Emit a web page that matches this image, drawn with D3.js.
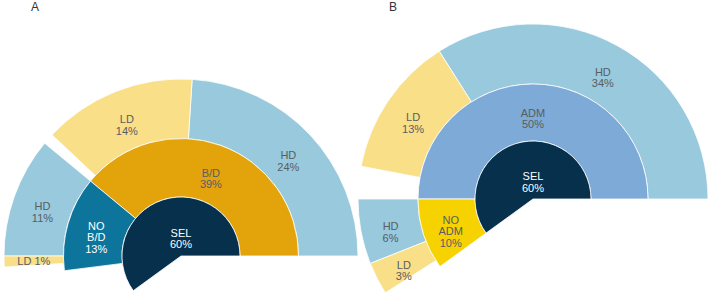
<!DOCTYPE html>
<html>
<head>
<meta charset="utf-8">
<script src="https://cdn.jsdelivr.net/npm/d3@7"></script>
<style>
  body { margin: 0; background: #fff; }
  svg { display: block; font-family: "Liberation Sans", Arial, sans-serif; }
</style>
</head>
<body>
<svg id="chart"></svg>
<script>
// two partial sunbursts, angles run counter-clockwise from 3 o'clock
const WIDTH = 709;
const HEIGHT = 293;

const panelNames = ['A', 'B'];

// panel A
const rootA = { name: 'SEL', value: 60 };
const midNamesA = ['B/D', 'NO B/D'];
const midValuesA = [39, 13];
const outerNamesA = [['HD', 'LD'], ['HD', 'LD']];
const outerValuesA = [[24, 14], [11, 1]];

// panel B
const rootB = { name: 'SEL', value: 60 };
const midNamesB = ['ADM', 'NO ADM'];
const midValuesB = [50, 10];
const outerNamesB = [['HD', 'LD'], ['HD', 'LD']];
const outerValuesB = [[34, 13], [6, 3]];

const COLORS = {
    'SEL': '#06304b',
    'B/D': '#e3a40b',
    'NO B/D': '#0d749b',
    'ADM': '#7eaad7',
    'NO ADM': '#f6d300',
    'HD': '#98c9dc',
    'LD': '#f8df88'
};
const WHITE_TEXT = new Set(['SEL', 'NO B/D']);

const svg = d3.select('#chart')
    .attr('width', WIDTH)
    .attr('height', HEIGHT);

// percent -> radians
const angle = d3.scaleLinear().domain([0, 100]).range([0, 2 * Math.PI]);

const panels = [
    { title: panelNames[0], root: rootA, midNames: midNamesA, midValues: midValuesA,
      outerNames: outerNamesA, outerValues: outerValuesA,
      cx: 181, cy: 256, radii: [59, 117.5, 177], titleX: 35 },
    { title: panelNames[1], root: rootB, midNames: midNamesB, midValues: midValuesB,
      outerNames: outerNamesB, outerValues: outerValuesB,
      cx: 533, cy: 199, radii: [58, 115, 175], titleX: 393 }
];

// math angle (ccw from east) span -> d3 arc angles
function span(a0, a1) {
    return { startAngle: Math.PI / 2 - a1, endAngle: Math.PI / 2 - a0 };
}

panels.forEach(p => {
    const segs = [];
    const [r1, r2, r3] = p.radii;

    // root wedge
    segs.push(Object.assign(span(0, angle(p.root.value)),
        { name: p.root.name, value: p.root.value, inner: 0, outer: r1, root: true }));

    let start = 0;
    p.midNames.forEach((name, i) => {
        const a0 = start;
        const a1 = start + angle(p.midValues[i]);
        segs.push(Object.assign(span(a0, a1),
            { name: name, value: p.midValues[i], inner: r1, outer: r2 }));
        let s2 = a0;
        p.outerNames[i].forEach((sub, j) => {
            const v = p.outerValues[i][j];
            const e2 = s2 + angle(v);
            segs.push(Object.assign(span(s2, e2),
                { name: sub, value: v, inner: r2, outer: r3 }));
            s2 = e2;
        });
        start = a1;
    });

    const arc = d3.arc()
        .innerRadius(d => d.inner)
        .outerRadius(d => d.outer);

    const g = svg.append('g').attr('transform', `translate(${p.cx},${p.cy})`);

    // outer rings first so the inner ones sit on top
    const order = segs.slice().sort((a, b) => b.outer - a.outer);
    g.selectAll('path')
        .data(order)
        .join('path')
        .attr('d', arc)
        .attr('fill', d => COLORS[d.name])
        .attr('stroke', '#fff')
        .attr('stroke-width', 0.8);

    const labels = g.selectAll('text.lbl')
        .data(order)
        .join('text')
        .attr('class', 'lbl')
        .attr('text-anchor', 'middle')
        .attr('font-size', 11)
        .attr('fill', d => WHITE_TEXT.has(d.name) ? '#ffffff' : '#585d63')
        .attr('transform', d => {
            if (d.root) return `translate(0,${-r1 * 0.39})`;
            const c = arc.centroid(d);
            return `translate(${c[0]},${c[1]})`;
        });

    // first line sits on the anchor; three-line labels move up a little
    labels.each(function (d) {
        const el = d3.select(this);
        let lines;
        if (d.value < 2) lines = [d.name + ' ' + d.value + '%'];
        else lines = d.name.split(' ').concat([d.value + '%']);
        const lh = 11.5;
        const y0 = -Math.max(0, lines.length - 2) * lh / 2 + 4;
        lines.forEach((t, k) => {
            el.append('tspan')
                .attr('x', 0)
                .attr('y', y0 + k * lh)
                .text(t);
        });
    });

    svg.append('text')
        .attr('x', p.titleX)
        .attr('y', 11)
        .attr('text-anchor', 'middle')
        .attr('font-size', 12)
        .attr('fill', '#333')
        .text(p.title);
});
</script>
</body>
</html>
